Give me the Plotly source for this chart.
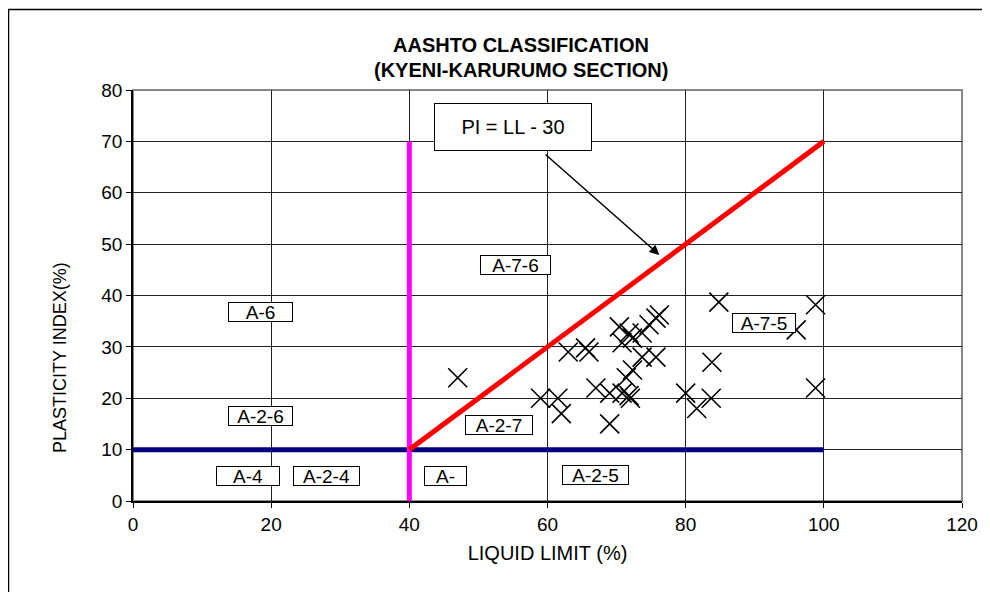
import plotly.graph_objects as go

# Data
ll = [47, 59, 61.5, 62, 63, 65.5, 66, 67, 69, 69, 70.8, 71.8, 72, 71.4, 72.3, 70.8, 72.3,
      73.7, 74.7, 75.7, 76.2, 75.7, 73.7, 70.4, 71.8, 84.8, 98.8, 96, 83.8, 80, 81.6, 83.7, 98.8]
pi = [24, 20, 20, 17, 29, 29.8, 29, 22, 21, 15, 21, 20.5, 20, 24, 25.5, 30.8, 31.7,
      32.7, 34.3, 35.6, 36.2, 28, 28, 33.9, 32.7, 38.7, 38.2, 33.3, 27, 21, 18, 20, 22]

ll_limit_x = [40, 40]
ll_limit_y = [0, 70]
pi_line_x = [40, 100]
pi_line_y = [10, 70]
pi10_x = [0, 100]
pi10_y = [10, 10]

zone_labels = ["A-6", "A-2-6", "A-4", "A-2-4", "A-", "A-2-5", "A-2-7", "A-7-6", "A-7-5"]
zone_x = [18.4, 18.4, 16.6, 28, 45.2, 66.9, 53, 55.3, 91.3]
zone_y = [36.8, 16.5, 4.9, 4.9, 4.9, 5.0, 14.8, 46, 34.6]
zone_w = [63, 63, 62, 65, 41, 65, 66, 69, 62]

fig = go.Figure()
fig.add_trace(go.Scatter(x=pi10_x, y=pi10_y, mode="lines",
                         line=dict(color="#000080", width=5), hoverinfo="skip"))
fig.add_trace(go.Scatter(x=ll_limit_x, y=ll_limit_y, mode="lines",
                         line=dict(color="#FF00FF", width=5), hoverinfo="skip"))
fig.add_trace(go.Scatter(x=pi_line_x, y=pi_line_y, mode="lines",
                         line=dict(color="#FF0000", width=5), hoverinfo="skip"))
fig.add_trace(go.Scatter(x=ll, y=pi, mode="markers",
                         marker=dict(symbol="x-thin-open", size=19, color="black",
                                     line=dict(color="black", width=1.6))))

font = "Liberation Sans, Arial, sans-serif"
for t, x, y, w in zip(zone_labels, zone_x, zone_y, zone_w):
    fig.add_annotation(x=x, y=y, text=t, showarrow=False, width=w, height=18,
                       bgcolor="white", bordercolor="black", borderwidth=1, borderpad=0,
                       font=dict(family=font, size=19, color="black"))

fig.add_annotation(x=55, y=72.8, text="PI = LL - 30", showarrow=False, width=152, height=42,
                   bgcolor="white", bordercolor="black", borderwidth=1, borderpad=2,
                   font=dict(family=font, size=20, color="black"))
fig.add_annotation(x=76.2, y=47.9, ax=59.5, ay=67.7, xref="x", yref="y", axref="x", ayref="y",
                   text="", showarrow=True, arrowhead=2, arrowsize=1.3, arrowwidth=1.5,
                   arrowcolor="black")

# Titles
fig.add_annotation(xref="paper", yref="paper", x=(521 - 133) / 829, y=(501 - 45) / 411,
                   yanchor="middle", text="<b>AASHTO CLASSIFICATION</b>", showarrow=False,
                   font=dict(family=font, size=20, color="black"))
fig.add_annotation(xref="paper", yref="paper", x=(521 - 133) / 829, y=(501 - 70) / 411,
                   yanchor="middle", text="<b>(KYENI-KARURUMO SECTION)</b>", showarrow=False,
                   font=dict(family=font, size=20, color="black"))
# Y axis title (placed lower than centre, as in the reference)
fig.add_annotation(xref="paper", yref="paper", x=(60 - 133) / 829, y=(501 - 358) / 411,
                   xanchor="center", yanchor="middle", textangle=-90,
                   text="PLASTICITY INDEX(%)", showarrow=False,
                   font=dict(family=font, size=18, color="black"))

# Plot area border and outer frame
fig.add_shape(type="rect", xref="paper", yref="paper", x0=0, y0=0, x1=1, y1=1,
              line=dict(color="#888888", width=2), layer="below")
fig.add_shape(type="rect", xref="paper", yref="paper",
              x0=(8.5 - 133) / 829, y0=(501 - 600) / 411, x1=(1000 - 133) / 829, y1=(501 - 9.5) / 411,
              line=dict(color="black", width=1.5))

fig.update_layout(
    width=982, height=584,
    margin=dict(l=125, r=28, t=82, b=91),
    paper_bgcolor="white", plot_bgcolor="white",
    showlegend=False,
    font=dict(family=font, size=19, color="black"),
    xaxis=dict(range=[0, 120], dtick=20, showgrid=True, gridcolor="#222222", gridwidth=1,
               zeroline=False, showline=True, linecolor="black", linewidth=1.5,
               ticks="outside", ticklen=5, tickcolor="black", tickfont=dict(size=19),
               title=dict(text="LIQUID LIMIT (%)", font=dict(size=20), standoff=12)),
    yaxis=dict(range=[0, 80], dtick=10, showgrid=True, gridcolor="#222222", gridwidth=1,
               zeroline=False, showline=True, linecolor="black", linewidth=1.5,
               ticks="outside", ticklen=5, tickcolor="black", tickfont=dict(size=19)),
)

fig.write_html("out.html")
